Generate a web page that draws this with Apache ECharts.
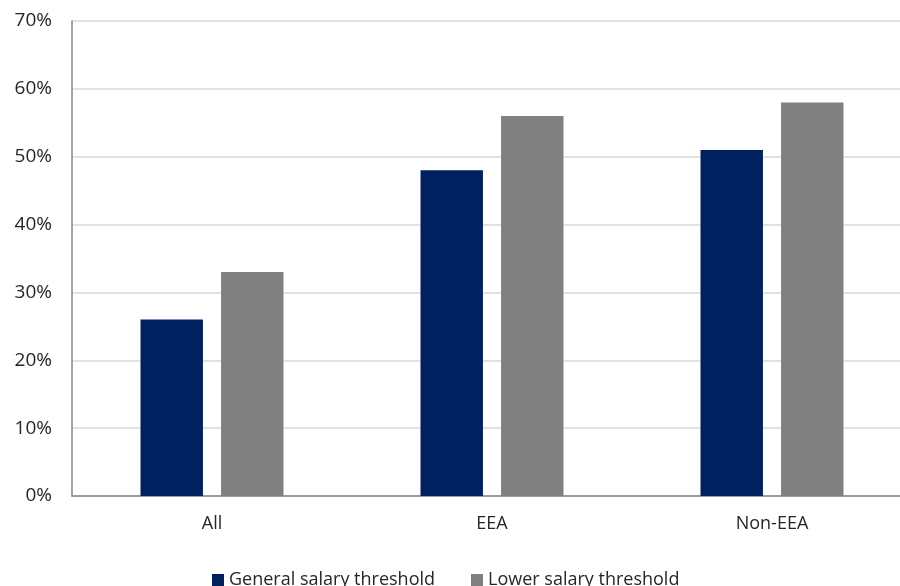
<!DOCTYPE html>
<html>
<head>
<meta charset="utf-8">
<script src="https://cdn.jsdelivr.net/npm/echarts@6/dist/echarts.min.js"></script>
<style>
  html, body { margin: 0; padding: 0; background: #fff; overflow: hidden; width: 900px; height: 586px; }
  #chart { width: 900px; height: 586px; }
</style>
</head>
<body>
<div id="chart"></div>
<script>
// Share of applicants by group, under each salary threshold (percent)
const categories = ['All', 'EEA', 'Non-EEA'];
const generalThreshold = [26, 48, 51];
const lowerThreshold = [33, 56, 58];
const yTicks = [0, 10, 20, 30, 40, 50, 60, 70];

const FONT = '"Open Sans", "Noto Sans", sans-serif';

const chart = echarts.init(document.getElementById('chart'));
chart.setOption({
  backgroundColor: '#ffffff',
  animation: false,
  // plot area runs slightly past the right edge of the canvas
  grid: { left: 72, right: -12, top: 21, bottom: 90, outerBoundsMode: 'none', containLabel: false },
  legend: {
    top: 566,
    left: 207,
    itemWidth: 12,
    itemHeight: 12,
    itemGap: 36,
    icon: 'rect',
    textStyle: { fontFamily: FONT, fontSize: 18, color: '#262626' },
    data: ['General salary threshold', 'Lower salary threshold']
  },
  xAxis: {
    type: 'category',
    data: categories,
    axisLine: { lineStyle: { color: '#868686', width: 1.5 } },
    axisTick: { show: false },
    axisLabel: { fontFamily: FONT, fontSize: 18, color: '#262626', margin: 19 }
  },
  yAxis: {
    type: 'value',
    min: yTicks[0],
    max: yTicks[yTicks.length - 1],
    interval: 10,
    axisLine: { show: true, lineStyle: { color: '#868686', width: 1.5 } },
    axisTick: { show: false },
    splitLine: { lineStyle: { color: '#d9d9d9', width: 1.5 } },
    axisLabel: {
      fontFamily: FONT, fontSize: 19, color: '#262626', margin: 20,
      formatter: v => v + '%'
    }
  },
  series: [
    {
      name: 'General salary threshold',
      type: 'bar',
      data: generalThreshold,
      barWidth: '22.3%',
      barGap: '29%',
      itemStyle: { color: '#002060' }
    },
    {
      name: 'Lower salary threshold',
      type: 'bar',
      data: lowerThreshold,
      barWidth: '22.3%',
      itemStyle: { color: '#808080' }
    }
  ]
});
</script>
</body>
</html>
